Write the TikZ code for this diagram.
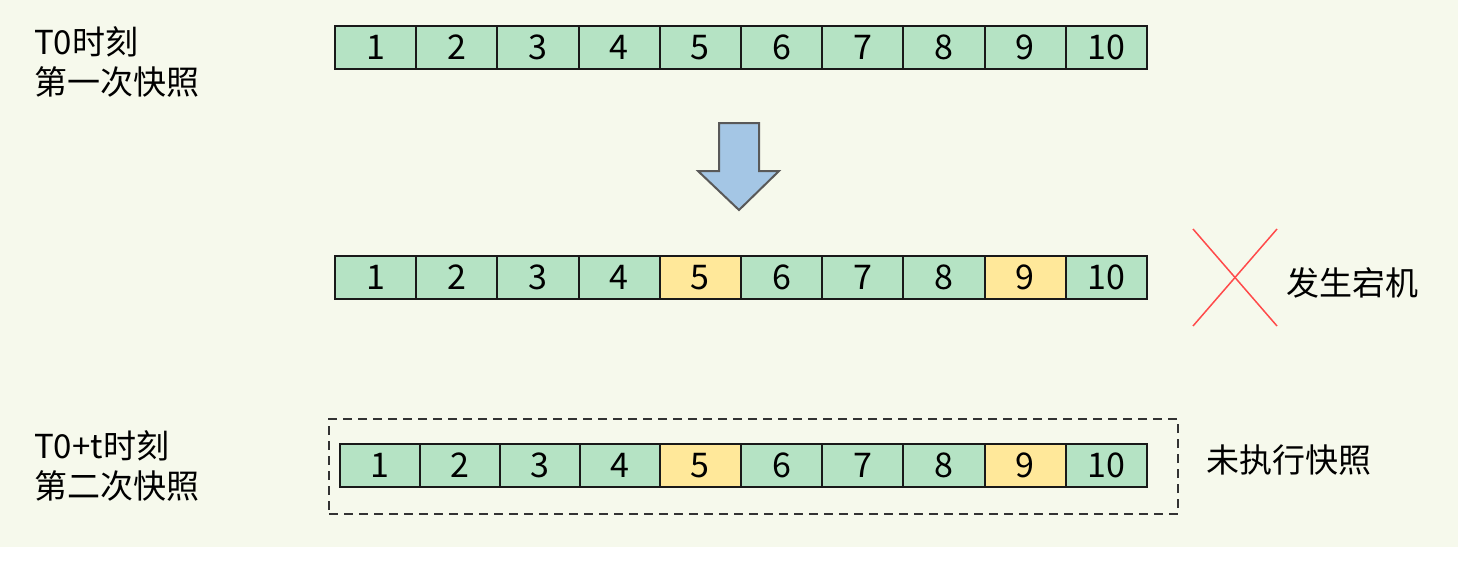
\documentclass[tikz,border=0pt]{standalone}
\usepackage{fontspec}
\setmainfont{Noto Sans CJK SC}
\usetikzlibrary{positioning}
\definecolor{bgcol}{HTML}{F6F9EC}
\definecolor{cellgreen}{HTML}{B5E3C4}
\definecolor{cellyellow}{HTML}{FFE89A}
\definecolor{arrowblue}{HTML}{A4C6E5}
\definecolor{crossred}{HTML}{FF4A4A}
\tikzset{
cell/.style = {draw=black!90, line width=2pt, minimum width=#1, minimum height=43pt,
  inner sep=0pt, outer sep=0pt, font=\fontsize{34}{34}\selectfont},
cell/.default = 81.2pt, % width of one slot
grn/.style={fill=cellgreen},
ylw/.style={fill=cellyellow},
lbl/.style={anchor=west, align=left, inner sep=0pt, font=\fontsize{33}{40}\selectfont}
}

\begin{document}
\begin{tikzpicture}[x=1pt, y=-1pt]
  \useasboundingbox (0,0) rectangle (1458,562);
  \fill[bgcol] (0,0) rectangle (1458,547);

  % first snapshot
  \node [lbl] (t1) at (34,62) {T0时刻\\第一次快照};
  \foreach \i in {1,...,10}
    \node [cell, grn] (a\i) at ({335+81.2*\i-40.6},47.5) {\i};

  % big arrow
  \draw [line width=2pt, draw=black!65, fill=arrowblue, line join=miter]
    (719,123) -- (759,123) -- (759,171) -- (779,171) -- (739,210)
    -- (698,171) -- (719,171) -- cycle;

  % crash
  \foreach \i/\c in {1/grn,2/grn,3/grn,4/grn,5/ylw,6/grn,7/grn,8/grn,9/ylw,10/grn}
    \node [cell, \c] (b\i) at ({335+81.2*\i-40.6},277.5) {\i};
  \draw [crossred, line width=1.5pt] (1193,229) -- (1277,326);
  \draw [crossred, line width=1.5pt] (1277,229) -- (1193,326);
  \node [lbl] (crash) at (1286,283) {发生宕机};

  % second snapshot
  \node [lbl] (t2) at (34,466) {T0+t时刻\\第二次快照};
  \node [draw=black!80, line width=2pt, dash pattern=on 9pt off 6pt,
    minimum width=849pt, minimum height=95pt, inner sep=0pt] (frame) at (753.5,466.5) {};
  \foreach \i in {1,...,4}
    \node [cell=80pt, grn] (c\i) at ({340+80*\i-40},465.5) {\i};
  \foreach \i/\c in {5/ylw,6/grn,7/grn,8/grn,9/ylw,10/grn}
    \node [cell, \c] (c\i) at ({335+81.2*\i-40.6},465.5) {\i};
  \node [lbl] (skip) at (1206,460) {未执行快照};
\end{tikzpicture}
\end{document}
